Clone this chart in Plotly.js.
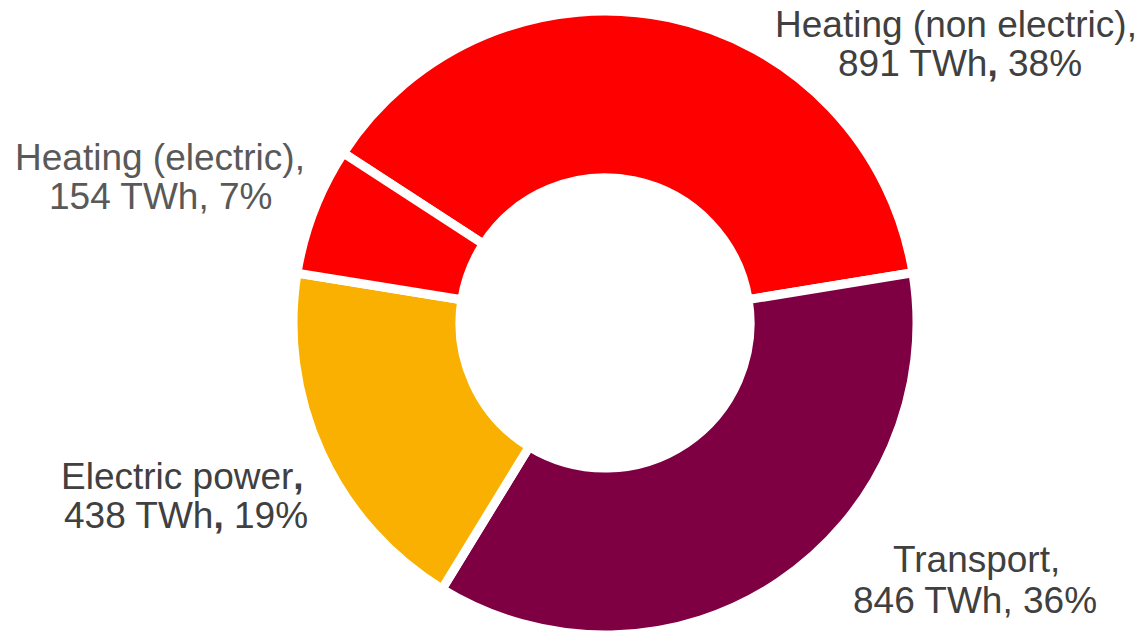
<!DOCTYPE html>
<html>
<head>
<meta charset="utf-8">
<script src="https://cdn.plot.ly/plotly-3.0.1.min.js"></script>
<style>html,body{margin:0;padding:0;background:#fff;}#chart{width:1141px;height:635px;}</style>
</head>
<body>
<div id="chart"></div>
<script>
// Data
const categories = ["Heating (non electric)", "Transport", "Electric power", "Heating (electric)"];
const valuesTWh = [891, 846, 438, 154];
const unit = "TWh";

// Style
const sliceColors = ["#FF0000", "#7F0042", "#F9B000", "#FF0000"];
const labelColors = ["#404040", "#404040", "#404040", "#595959"];
// bold commas in the original: [line1, line2]
const boldComma = [[false, true], [false, false], [true, true], [false, false]];
// label line centres in pixels [x1, baseline1, x2, baseline2]
const labelPos = [
  [956, 37, 960, 76],
  [976, 572, 975, 613],
  [182, 489, 186, 528],
  [160, 170, 160, 209]
];

const W = 1141, H = 635, FS = 37;
const total = valuesTWh.reduce((a, b) => a + b, 0);
const comma = b => b ? "<b>,</b>" : ",";

const annotations = [];
categories.forEach((c, i) => {
  const pct = Math.round(valuesTWh[i] / total * 100);
  const l1 = c + comma(boldComma[i][0]);
  const l2 = valuesTWh[i] + " " + unit + comma(boldComma[i][1]) + " " + pct + "%";
  const p = labelPos[i];
  [[l1, p[0], p[1]], [l2, p[2], p[3]]].forEach(([t, x, b]) => {
    annotations.push({
      text: t, showarrow: false, xref: "paper", yref: "paper",
      x: x / W, y: 1 - (b - 0.347 * FS) / H,
      xanchor: "center", yanchor: "middle",
      font: {family: "Arial, 'Liberation Sans', sans-serif", size: FS, color: labelColors[i]}
    });
  });
});

const trace = {
  type: "pie",
  labels: categories,
  values: valuesTWh,
  sort: false,
  direction: "clockwise",
  rotation: -57,
  hole: 0.465,
  textinfo: "none",
  hoverinfo: "label+value+percent",
  marker: {colors: sliceColors, line: {color: "#FFFFFF", width: 9}},
  domain: {x: [0.2568, 0.8037], y: [0, 0.9827]}
};

const layout = {
  width: W, height: H,
  margin: {l: 0, r: 0, t: 0, b: 0},
  showlegend: false,
  paper_bgcolor: "#FFFFFF",
  annotations: annotations
};

Plotly.newPlot("chart", [trace], layout, {displayModeBar: false, staticPlot: true});
</script>
</body>
</html>
